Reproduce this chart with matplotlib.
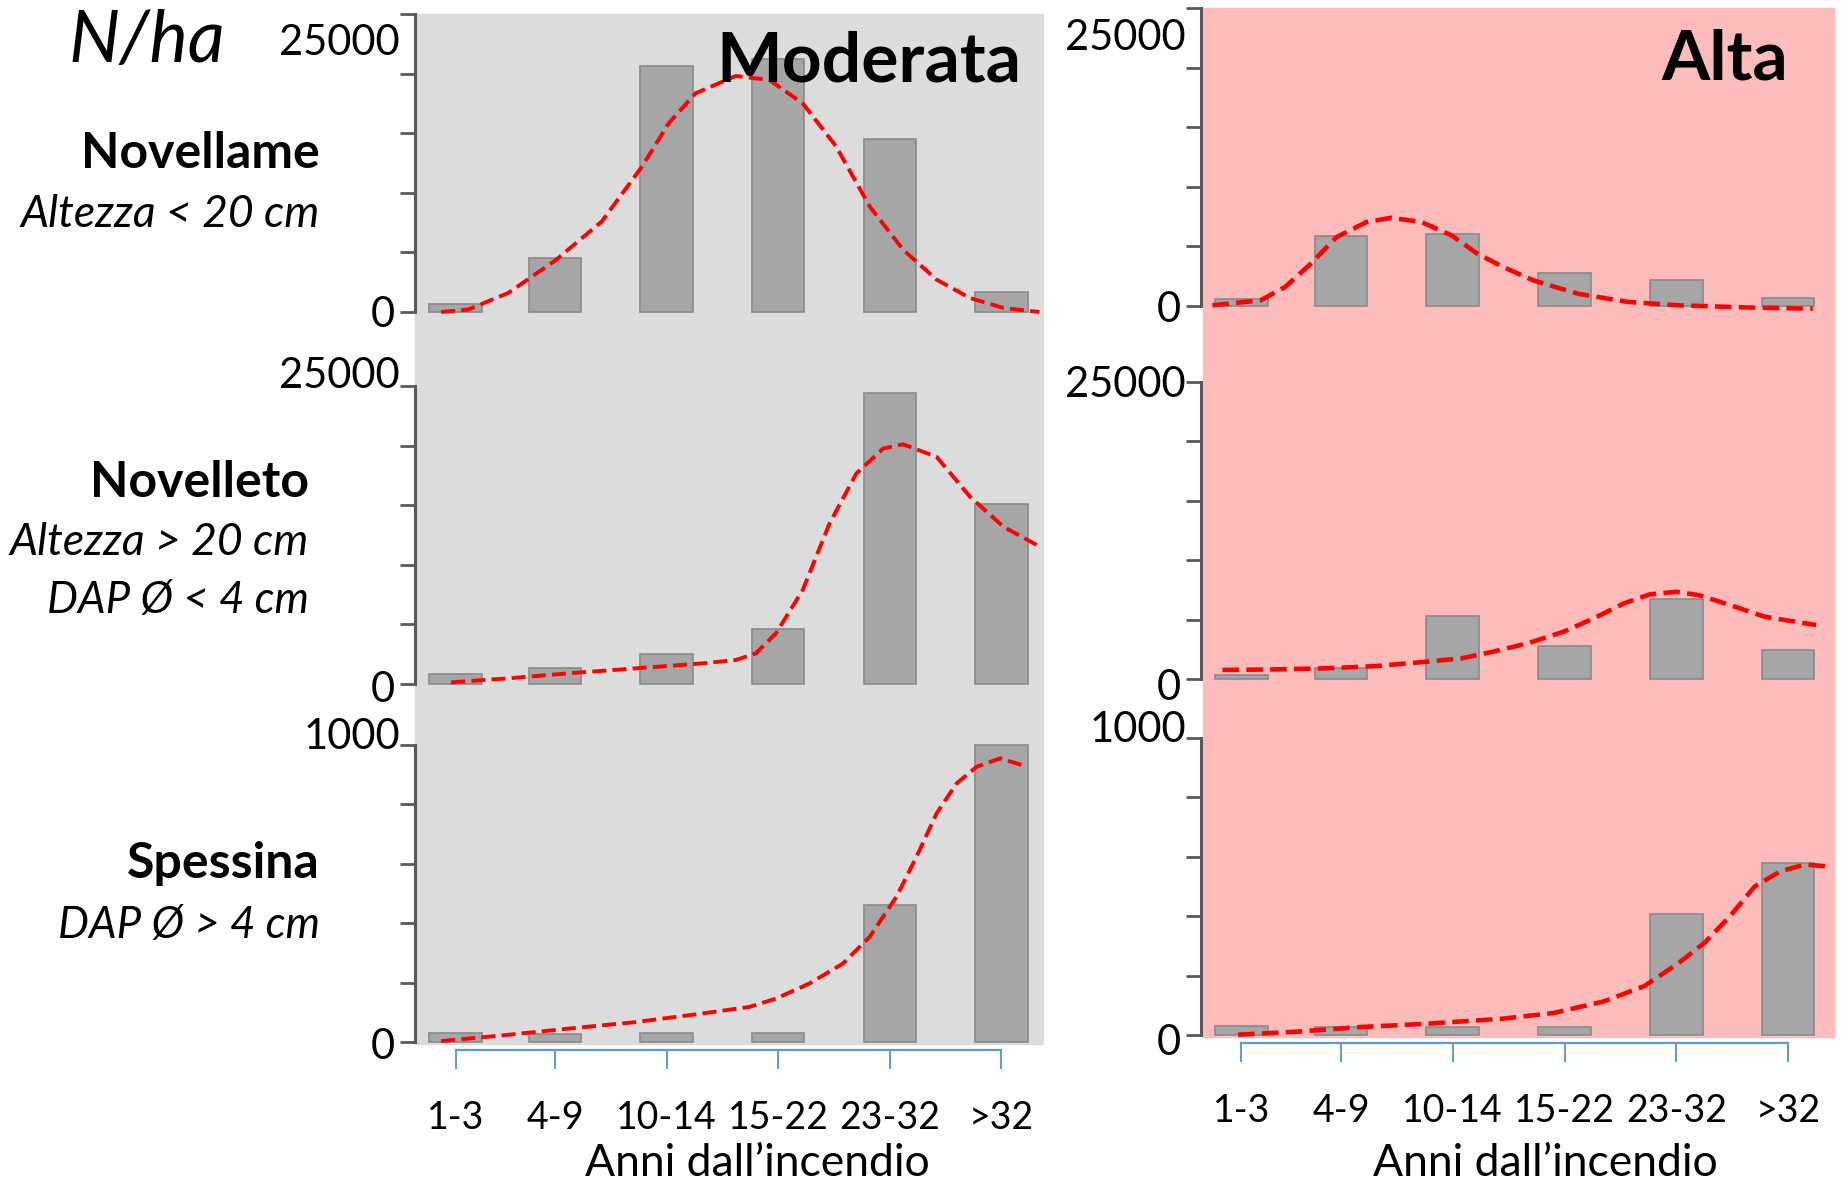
import numpy as np
import matplotlib
matplotlib.use('Agg')
from matplotlib import pyplot as plot
from matplotlib.patches import Rectangle

plot.rcParams['font.family'] = ['Lato', 'DejaVu Sans']

# --- data ---
categories = ['1-3', '4-9', '10-14', '15-22', '23-32', '>32']

# bars (N/ha)
mod_novellame = [670, 4500, 20600, 21200, 14500, 1650]
alta_novellame = [610, 5900, 6000, 2740, 2210, 670]
mod_novelleto = [840, 1310, 2490, 4580, 24400, 15060]
alta_novelleto = [310, 900, 5300, 2800, 6700, 2440]
mod_spessina = [31, 28, 30, 30, 460, 1000]
alta_spessina = [29, 26, 26, 26, 407, 578]

# dashed trend curves (x in category units)
mod_novellame_cx = [-0.02, 0.22, 0.58, 1.0, 1.42, 1.78, 2.02, 2.26, 2.62, 2.92, 3.22, 3.52, 3.82, 4.12, 4.42, 4.72, 5.02, 5.34]
mod_novellame_cy = [0, 195, 1590, 4300, 7600, 12200, 15840, 18350, 19800, 19470, 17510, 13880, 8855, 5220, 2710, 1170, 335, 0]
alta_novellame_cx = [-0.15, 0.28, 0.50, 0.73, 0.96, 1.23, 1.45, 1.72, 1.99, 2.22, 2.45, 2.72, 3.12, 3.57, 4.02, 4.70, 5.22]
alta_novellame_cy = [56, 475, 1590, 3550, 5780, 7040, 7400, 7040, 5920, 4385, 3270, 2150, 1030, 335, 56, -140, -220]
mod_novelleto_cx = [0.07, 0.58, 1.12, 1.72, 2.32, 2.62, 2.80, 2.98, 3.22, 3.46, 3.70, 3.94, 4.12, 4.42, 4.72, 5.02, 5.32]
mod_novelleto_cy = [140, 475, 895, 1310, 1730, 2010, 2570, 4245, 7880, 13460, 17650, 19750, 20110, 19050, 15700, 13180, 11650]
alta_novelleto_cx = [-0.06, 0.42, 0.87, 1.32, 1.77, 2.08, 2.36, 2.67, 2.99, 3.26, 3.53, 3.76, 4.0, 4.2, 4.48, 4.79, 5.25]
alta_novelleto_cy = [760, 810, 900, 1090, 1460, 1740, 2300, 3000, 3980, 5100, 6360, 7120, 7340, 7060, 6220, 5240, 4540]
mod_spessina_cx = [-0.02, 0.52, 1.12, 1.72, 2.32, 2.74, 2.98, 3.28, 3.58, 3.82, 4.06, 4.24, 4.42, 4.60, 4.78, 4.99, 5.23]
mod_spessina_cy = [3, 22, 45, 67, 96, 118, 146, 197, 264, 354, 489, 624, 770, 871, 927, 955, 927]
alta_spessina_cx = [0.08, 0.64, 1.18, 1.77, 2.45, 2.90, 3.35, 3.71, 4.02, 4.25, 4.48, 4.70, 4.93, 5.15, 5.34]
alta_spessina_cy = [1, 12, 27, 38, 55, 74, 113, 164, 242, 310, 400, 500, 551, 574, 568]

row_tops = [25000, 25000, 1000]
xlabel = 'Anni dall\u2019incendio'

# --- layout (pixels in the 1841x1182 canvas) ---
W, H = 1841, 1182
fig = plot.figure(figsize=(W / 100, H / 100), dpi=100)
fig.patch.set_facecolor('white')

pos = [0.11, 1, 2, 3, 4, 5]
barColor = '#a6a6a6'
barEdge = '#8a8a8a'
axisGray = '#595959'
blue = '#5b9bd5'


def fx(x):
    return x / W


def fy(y):
    return 1 - y / H


def addAx(x0, x1, ytop, ybot):
    return fig.add_axes([fx(x0), fy(ybot), (x1 - x0) / W, (ybot - ytop) / H])


# backgrounds
fig.patches.append(Rectangle((fx(415), fy(1044)), (1043 - 415) / W, (1044 - 14) / H,
                             transform=fig.transFigure, color='#dcdcdc', zorder=-5))
fig.patches.append(Rectangle((fx(1203), fy(1037)), (1834 - 1203) / W, (1037 - 8) / H,
                             transform=fig.transFigure, color='#fdbcbc', zorder=-5))

columns = [
    dict(x0=415, x1=1043, xlim=(-0.254, 5.373), rows=[(14, 312), (386, 684), (745, 1042)],
         bars=[mod_novellame, mod_novelleto, mod_spessina],
         curves=[(mod_novellame_cx, mod_novellame_cy), (mod_novelleto_cx, mod_novelleto_cy),
                 (mod_spessina_cx, mod_spessina_cy)],
         topOff=[-29, 10, 8], zeroOff=[-3, -6, -5], lw=2.8),
    dict(x0=1201, x1=1834, xlim=(-0.252, 5.41), rows=[(8, 306), (382, 679), (738, 1035)],
         bars=[alta_novellame, alta_novelleto, alta_spessina],
         curves=[(alta_novellame_cx, alta_novellame_cy), (alta_novelleto_cx, alta_novelleto_cy),
                 (alta_spessina_cx, alta_spessina_cy)],
         topOff=[-30, -3, 8], zeroOff=[-4, -9, -8], lw=3.3),
]

for col in columns:
    for r, (ytop, ybot) in enumerate(col['rows']):
        ax = addAx(col['x0'], col['x1'], ytop, ybot)
        ax.set_zorder(2)
        ax.patch.set_alpha(0)
        top = row_tops[r]
        ax.bar(pos, col['bars'][r], width=0.47, color=barColor, edgecolor=barEdge,
               linewidth=1.2, clip_on=False, zorder=2)
        cx, cy = col['curves'][r]
        ax.plot(cx, cy, color='#ff0000', lw=col['lw'], linestyle=(0, (3.6, 1.6)),
                clip_on=False, zorder=3)
        ax.set_xlim(*col['xlim'])
        ax.set_ylim(0, top)
        for s in ['top', 'right']:
            ax.spines[s].set_visible(False)
        ax.spines['left'].set_color(axisGray)
        ax.spines['left'].set_linewidth(2.2)
        ax.set_yticks(np.linspace(0, top, 6))
        ax.set_yticklabels([])
        ax.tick_params(axis='y', length=11, width=2, color=axisGray, direction='out')
        # value labels next to the axis
        ax.annotate(str(top), xy=(0, top), xycoords=('axes fraction', 'data'),
                    xytext=(-15, col['topOff'][r]), textcoords='offset pixels',
                    ha='right', va='center', fontsize=30)
        ax.annotate('0', xy=(0, 0), xycoords=('axes fraction', 'data'),
                    xytext=(-20, col['zeroOff'][r]), textcoords='offset pixels',
                    ha='right', va='center', fontsize=30)
        if r < 2:
            ax.spines['bottom'].set_visible(False)
            ax.set_xticks([])
        else:
            ax.spines['bottom'].set_position(('outward', 6))
            ax.spines['bottom'].set_color(blue)
            ax.spines['bottom'].set_linewidth(1.6)
            ax.spines['bottom'].set_bounds(pos[0], pos[-1])
            ax.set_xticks(pos)
            ax.set_xticklabels(categories, fontsize=27)
            ax.tick_params(axis='x', length=14, width=1.4, color=blue, direction='out', pad=22)

# headers and row labels
fig.text(fx(147), fy(62), 'N/ha', fontsize=52, style='italic', ha='center', va='baseline')
fig.text(fx(1021), fy(82), 'Moderata', fontsize=50, weight='bold', ha='right', va='baseline', zorder=5)
fig.text(fx(1788), fy(80), 'Alta', fontsize=50, weight='bold', ha='right', va='baseline', zorder=5)

fig.text(fx(320), fy(168), 'Novellame', fontsize=36, weight='bold', ha='right', va='baseline')
fig.text(fx(320), fy(227), 'Altezza < 20 cm', fontsize=32, style='italic', ha='right', va='baseline')
fig.text(fx(309), fy(497), 'Novelleto', fontsize=36, weight='bold', ha='right', va='baseline')
fig.text(fx(309), fy(555), 'Altezza > 20 cm', fontsize=32, style='italic', ha='right', va='baseline')
fig.text(fx(309), fy(613), 'DAP \u00d8 < 4 cm', fontsize=31.5, style='italic', ha='right', va='baseline')
fig.text(fx(320), fy(878), 'Spessina', fontsize=36, weight='bold', ha='right', va='baseline')
fig.text(fx(320), fy(938), 'DAP \u00d8 > 4 cm', fontsize=31.5, style='italic', ha='right', va='baseline')

fig.text(fx(757), fy(1176), xlabel, fontsize=32, ha='center', va='baseline')
fig.text(fx(1545), fy(1176), xlabel, fontsize=32, ha='center', va='baseline')

fig.savefig('out.png', dpi=100)
